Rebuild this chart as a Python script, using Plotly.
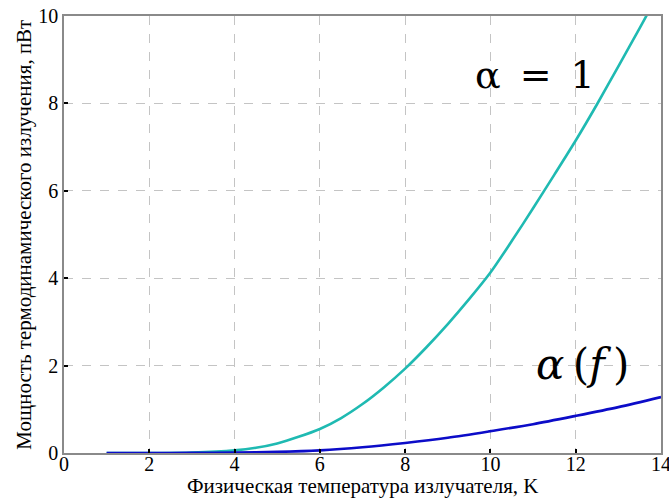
import plotly.graph_objects as go

# Data
temp_a1 = [1, 2, 3, 4, 4.5, 5, 5.5, 6, 6.5, 7, 7.5, 8, 8.5, 9, 9.5, 10, 10.5, 11, 11.5, 12, 12.5, 13, 13.5, 14]
power_a1 = [0.0, 0.0, 0.01, 0.06, 0.12, 0.22, 0.37, 0.55, 0.8, 1.12, 1.5, 1.93, 2.42, 2.95, 3.52, 4.13, 4.85, 5.6, 6.37, 7.15, 7.98, 8.85, 9.72, 10.62]

temp_af = [1, 2, 3, 4, 5, 6, 7, 8, 9, 10, 11, 12, 13, 14]
power_af = [0.0, 0.0, 0.002, 0.01, 0.025, 0.06, 0.13, 0.23, 0.35, 0.5, 0.66, 0.85, 1.05, 1.28]

x_ticks = [0, 2, 4, 6, 8, 10, 12, 14]
y_ticks = [0, 2, 4, 6, 8, 10]

x_title = "Физическая температура излучателя, K"
y_title = "Мощность термодинамического излучения, пВт"

fig = go.Figure()
fig.add_trace(go.Scatter(x=temp_a1, y=power_a1, mode="lines", line=dict(color="#1fbab2", width=2.6, shape="spline", smoothing=0.8), showlegend=False))
fig.add_trace(go.Scatter(x=temp_af, y=power_af, mode="lines", line=dict(color="#0c0cc8", width=2.6, shape="spline", smoothing=0.8), showlegend=False))

serif = "Liberation Serif"
math_font = "DejaVu Serif"
axis_common = dict(
    showline=True, linecolor="#8a8a8a", linewidth=1.5, mirror=True,
    ticks="inside", ticklen=4, tickcolor="black", tickwidth=1.5,
    showgrid=True, gridcolor="#c4c4c4", griddash="dash", gridwidth=1,
    zeroline=False, tickfont=dict(family=serif, size=20, color="black"),
    automargin=False, ticklabeloverflow="allow",
)
fig.update_xaxes(range=[0, 14], tickvals=x_ticks, ticklabelstandoff=-8, **axis_common)
fig.update_yaxes(range=[0, 10], tickvals=y_ticks, ticklabelstandoff=0, **axis_common)

fig.add_annotation(xref="paper", yref="paper", x=0.5, y=-0.043, yanchor="top",
                   text=x_title, showarrow=False, font=dict(family=serif, size=21, color="black"))
fig.add_annotation(xref="paper", yref="paper", x=-0.045, y=0.5, xanchor="right",
                   text=y_title, textangle=-90, showarrow=False, font=dict(family=serif, size=21, color="black"))

fig.add_annotation(x=11.05, y=8.65, text="α\u2002=\u20021", showarrow=False,
                   font=dict(family=math_font, size=38, color="black"))
fig.add_annotation(x=12.15, y=2.02, text="<i>α</i>\u2009(<i>f</i>\u2009)", showarrow=False,
                   font=dict(family=math_font, size=42, color="black"))

fig.update_layout(width=669, height=498, margin=dict(l=64, r=8, t=16, b=45),
                  plot_bgcolor="white", paper_bgcolor="white")
fig.write_html("out.html", config={"displayModeBar": False},
               post_script="document.body.style.margin='0';document.body.style.overflow='hidden';")
